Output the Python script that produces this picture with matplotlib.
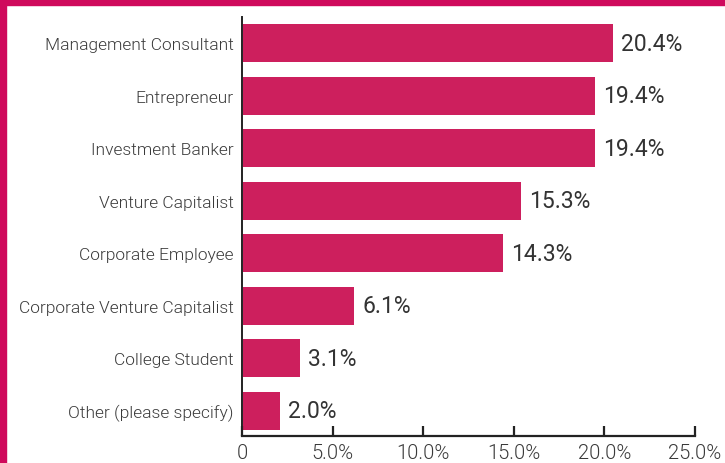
import matplotlib.pyplot as plt
from matplotlib.patches import Rectangle

BAR = "#cd1f5d"
FRAME = "#cf0a5c"
TEXT = "#333333"
LABEL = "#3a3a3a"

roles = [
    "Management Consultant",
    "Entrepreneur",
    "Investment Banker",
    "Venture Capitalist",
    "Corporate Employee",
    "Corporate Venture Capitalist",
    "College Student",
    "Other (please specify)",
]
shares = [20.4, 19.4, 19.4, 15.3, 14.3, 6.1, 3.1, 2.0]
xticks = [0, 5, 10, 15, 20, 25]
xtick_labels = ["0", "5.0%", "10.0%", "15.0%", "20.0%", "25.0%"]

plt.rcParams["font.family"] = ["Roboto", "DejaVu Sans"]

W, H = 725, 464
fig = plt.figure(figsize=(W / 100, H / 100), dpi=100, facecolor="white")
ax = fig.add_axes([242 / W, 1 - 437 / H, (695 - 242) / W, (437 - 18) / H])

y = list(range(len(roles)))
ax.barh(y, shares, height=0.72, color=BAR, left=0.08)
for i, v in enumerate(shares):
    ax.annotate(f"{v:.1f}%", xy=(v + 0.08, i), xytext=(6, 0),
                textcoords="offset points", va="center", ha="left",
                fontsize=16.5, color=TEXT)

ax.set_xlim(0, 25)
ax.set_ylim(7.476, -0.495)
ax.set_yticks(y)
ax.set_yticklabels(roles, fontsize=12.5, color=LABEL, fontweight=300)
ax.tick_params(axis="y", length=0, pad=6)
ax.set_xticks(xticks)
ax.set_xticklabels(xtick_labels, fontsize=14.5, color=LABEL, fontweight=300)
ax.tick_params(axis="x", direction="in", length=7, width=1.6, color="#222222", pad=5)

for s in ("top", "right"):
    ax.spines[s].set_visible(False)
ax.spines["left"].set_color("#222222")
ax.spines["left"].set_linewidth(1.4)
ax.spines["bottom"].set_color("#222222")
ax.spines["bottom"].set_linewidth(1.6)

# frame strips along the left and top edge
fig.patches.append(Rectangle((0, 0), 6 / W, 1, transform=fig.transFigure,
                             color=FRAME, zorder=10))
fig.patches.append(Rectangle((0, 1 - 6 / H), 1, 6 / H, transform=fig.transFigure,
                             color=FRAME, zorder=10))

fig.savefig("out.png", dpi=100, facecolor="white")
